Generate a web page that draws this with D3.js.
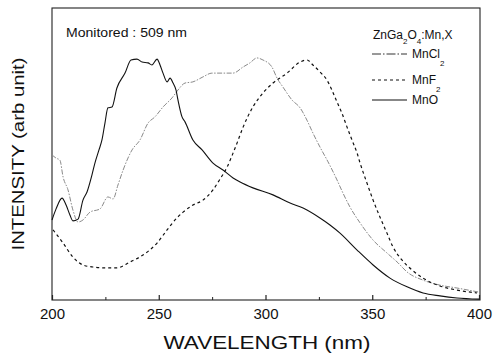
<!DOCTYPE html>
<html><head><meta charset="utf-8">
<script src="https://cdn.jsdelivr.net/npm/d3@7"></script>
<style>body{margin:0;background:#fff}svg{display:block}text{font-family:"Liberation Sans",Arial,sans-serif;fill:#111}</style>
</head><body><svg id="c" width="494" height="357"></svg>
<script>
// ---- data (wavelength nm, intensity arb. unit 0-100) ----
const mnoWl  = [200,201.9,204.7,206.6,208.4,209.8,212.2,214.5,216.4,218.7,220.1,222,223.4,224.8,226.2,228.1,230.4,234.2,237,239.8,242.2,245,246.8,249.2,250.6,252,253.9,255.3,256.7,258.1,259,260.9,262.3,266,270.3,275.4,280.1,284.8,288.1,294.1,303.5,311.5,317.6,325.5,330.2,334.9,342.9,350.4,358.3,366.3,373.8,381.7,389.7,400];
const mnoVal = [27.4,31.2,34.9,32.5,29.1,27.1,27.7,34.2,37,42.8,46.9,51.4,54.8,60.6,65.8,66.1,72.6,77.7,82.2,82.5,81.5,81.2,80.5,82.5,80.5,77.7,74.7,76,74.3,71.9,68.5,62.7,61,54.8,51.4,46.9,44.5,41.8,40.4,38.4,36,33.2,31.5,28.1,25.7,22.9,17.1,12,7.5,4.5,2.4,1.4,0.7,0.3];
const mncl2Wl  = [200,201.9,203.7,205.2,207.5,209.8,212.2,214.5,217.8,222.5,226.2,228.6,230.9,233.3,237.5,241.2,245,248.2,252,256.2,259,262.3,266,270.7,274.9,280.1,284.8,289.5,292.7,296,298.8,303,305.4,308.2,312.4,316.2,319.4,322.2,325.5,329.3,333.5,336.3,339.6,344.3,350.4,356.9,362.1,366.3,373.8,381.7,389.7,400];
const mncl2Val = [49.7,48.6,47.9,42.1,37.7,30.8,26.7,27.4,30.1,31.2,35.3,34.6,39.4,44.5,51.4,54.8,60.6,62.7,66.1,69.2,71.9,74.3,74.7,76.4,77.7,77.7,77.7,79.8,81.2,82.9,82.2,79.8,76,72.9,68.5,65.8,61.6,57.2,52.4,47.3,41.1,36.6,31.8,26.4,20.5,16.1,12.7,9.6,6.8,5.1,4.1,2.7];
const mnf2Wl  = [200.5,205.2,209.8,214.5,219.2,225.8,230.4,236.5,242.6,249.2,253.9,258.5,261.4,266,270.7,275.4,278.7,282,284.8,286.7,289.5,294.1,298.8,303.5,310.1,316.2,319.4,322.2,325.5,328.8,331.1,333.5,335.8,338.2,340.5,342.9,344.3,347.5,350.4,353.6,356.9,359.7,363.9,368.6,373.8,381.7,389.7,399.1];
const mnf2Val = [24,19.5,14.7,12,11.3,11,11,13,15.4,19.5,24,28.1,30.1,32.5,34.2,37.7,41.4,45.5,50.3,53.8,59.2,66.1,70.9,74.3,77.7,81.5,82.2,80.5,78.1,75.3,71.9,67.8,64,59.2,54.8,50.3,46.9,40.1,34.2,28.4,22.9,18.2,13.7,10.3,7.5,4.8,3.4,2.4];
const xMajorTicks = [200,250,300,350,400];
const xMinorTicks = [225,275,325,375];
const seriesNames = ["MnCl2","MnF2","MnO"];

const svg = d3.select("#c");
const L=52,R=479,T=8,B=300;
const x = d3.scaleLinear().domain([200,400]).range([L,R]);
const y = d3.scaleLinear().domain([0,100]).range([B,T]);

// frame
svg.append("rect").attr("x",L).attr("y",T).attr("width",R-L+1).attr("height",B-T)
  .attr("fill","none").attr("stroke","#222").attr("stroke-width",1.1);

// x axis
const gx = svg.append("g").attr("transform",`translate(0,${B})`)
  .call(d3.axisBottom(x).tickValues(xMajorTicks).tickSize(-5).tickPadding(8).tickFormat(d3.format("d")));
gx.select(".domain").remove();
gx.selectAll("line").attr("stroke","#222").attr("stroke-width",1.2);
gx.selectAll("text").attr("font-size",15).attr("font-family","Liberation Sans, Arial, sans-serif").attr("fill","#111");
const gm = svg.append("g").attr("transform",`translate(0,${B})`)
  .call(d3.axisBottom(x).tickValues(xMinorTicks).tickSize(-3).tickFormat(""));
gm.select(".domain").remove();
gm.selectAll("line").attr("stroke","#222");

// axis titles
svg.append("text").attr("x",267).attr("y",349).attr("text-anchor","middle")
  .attr("font-size",19).attr("textLength",207).attr("lengthAdjust","spacingAndGlyphs")
  .text("WAVELENGTH (nm)");
svg.append("text").attr("transform","translate(24,154) rotate(-90)").attr("text-anchor","middle")
  .attr("font-size",16).attr("textLength",193).attr("lengthAdjust","spacingAndGlyphs")
  .text("INTENSITY (arb unit)");

// lines
const line = d3.line().x(d=>x(d[0])).y(d=>y(d[1])).curve(d3.curveMonotoneX);
const zip = (a,b)=>a.map((v,i)=>[v,b[i]]);
const styles = {
  MnCl2:{stroke:"#8a8a8a",w:1,dash:"5,1.5,1.5,1.5"},
  MnF2:{stroke:"#111",w:1.2,dash:"3,3"},
  MnO:{stroke:"#111",w:1.1,dash:null}
};
const dataSets = {MnCl2:zip(mncl2Wl,mncl2Val),MnF2:zip(mnf2Wl,mnf2Val),MnO:zip(mnoWl,mnoVal)};
seriesNames.forEach(n=>{
  const p = svg.append("path").datum(dataSets[n]).attr("d",line).attr("fill","none")
    .attr("stroke",styles[n].stroke).attr("stroke-width",styles[n].w);
  if(styles[n].dash) p.attr("stroke-dasharray",styles[n].dash);
});

// annotation
svg.append("text").attr("x",66).attr("y",37).attr("font-size",12)
  .attr("textLength",121).attr("lengthAdjust","spacingAndGlyphs").text("Monitored : 509 nm");

// legend
const lt = svg.append("text").attr("x",373).attr("y",39).attr("font-size",12);
lt.append("tspan").text("ZnGa");
lt.append("tspan").attr("font-size",8).attr("dy",5).text("2");
lt.append("tspan").attr("dy",-5).text("O");
lt.append("tspan").attr("font-size",8).attr("dy",5).text("4");
lt.append("tspan").attr("dy",-5).text(":Mn,X");
const legY = {MnCl2:54,MnF2:80,MnO:100};
seriesNames.forEach(n=>{
  const ly = legY[n];
  const l = svg.append("line").attr("x1",372).attr("x2",407).attr("y1",ly).attr("y2",ly)
    .attr("stroke",n==="MnCl2"?"#333":styles[n].stroke).attr("stroke-width",styles[n].w);
  if(styles[n].dash) l.attr("stroke-dasharray",n==="MnCl2"?"9,2,1.5,2":styles[n].dash);
  const t = svg.append("text").attr("x",412).attr("y",ly+4).attr("font-size",12);
  const m = n.match(/^(.*?)(\d*)$/);
  t.append("tspan").text(m[1]);
  if(m[2]) t.append("tspan").attr("font-size",8).attr("dy",8).text(m[2]);
});
</script></body></html>
